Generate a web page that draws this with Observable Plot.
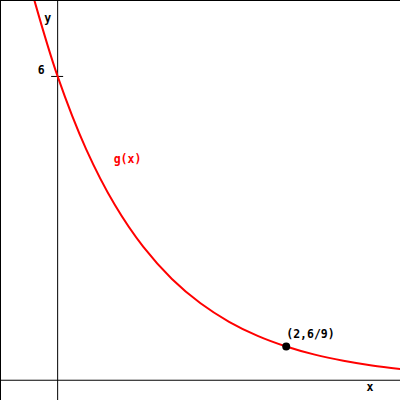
<!DOCTYPE html>
<html>
<head>
<meta charset="utf-8">
<script src="https://cdn.jsdelivr.net/npm/d3@7"></script>
<script src="https://cdn.jsdelivr.net/npm/@observablehq/plot@0.6"></script>
<style>
  body { margin: 0; background: #fff; }
  #chart svg { display: block; }
</style>
</head>
<body>
<div id="chart"></div>
<script>
// g(x) values
const xs = [-0.5, -0.25, -0.2, 0, 0.25, 0.5, 0.75, 1, 1.25, 1.5, 1.75, 2, 2.25, 2.5, 2.75, 3];
const ys = [10.39, 7.896, 7.474, 6, 4.559, 3.464, 2.632, 2, 1.520, 1.155, 0.877, 0.667, 0.506, 0.385, 0.292, 0.222];
const curve = xs.map((x, i) => ({x, y: ys[i]}));

const yTicks = [6];
const pointX = [2];
const pointY = [6 / 9];
const pointLabel = ["(2,6/9)"];
const curveLabel = ["g(x)"];
const curveLabelPos = {x: 0.611, y: 4.36};

const font = "DejaVu Sans Mono";

const chart = Plot.plot({
  width: 400,
  height: 400,
  margin: 0,
  x: {domain: [-0.5, 3], axis: null},
  y: {domain: [-0.4, 7.5], axis: null},
  style: {fontFamily: font, fontSize: "11.5px", fontWeight: "bold", background: "#fff"},
  marks: [
    Plot.ruleX([0], {stroke: "black", strokeWidth: 1}),
    Plot.ruleY([0], {stroke: "black", strokeWidth: 1}),
    Plot.ruleY(yTicks, {x1: 0, x2: 0, insetLeft: -6, insetRight: -6, stroke: "black"}),
    Plot.text(yTicks, {x: 0, y: d => d, text: d => String(d), textAnchor: "end", dx: -13, dy: -6, fill: "black"}),
    Plot.text(["y"], {x: 0, frameAnchor: "top", text: d => d, dx: -10, dy: 13, fill: "black"}),
    Plot.text(["x"], {y: 0, frameAnchor: "right", text: d => d, dx: -27, dy: 7, fill: "black"}),
    Plot.line(curve, {x: "x", y: "y", stroke: "red", strokeWidth: 2, curve: "catmull-rom", clip: true}),
    Plot.text(curveLabel, {x: curveLabelPos.x, y: curveLabelPos.y, text: d => d, fill: "red"}),
    Plot.dot(pointX, {x: d => d, y: (d, i) => pointY[i], r: 4, fill: "black", stroke: "none"}),
    Plot.text(pointX, {x: d => d, y: (d, i) => pointY[i], text: (d, i) => pointLabel[i], textAnchor: "start", dx: 0, dy: -12, fill: "black"}),
    Plot.frame({stroke: "black", strokeWidth: 1})
  ]
});
document.getElementById("chart").appendChild(chart);
</script>
</body>
</html>
